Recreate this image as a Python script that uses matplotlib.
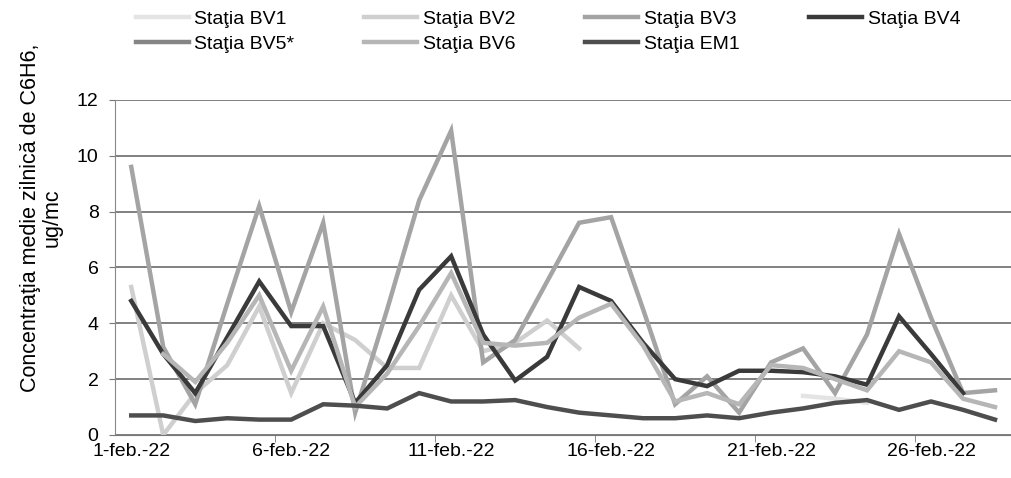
import numpy as np
import matplotlib
matplotlib.use("Agg")
import matplotlib.pyplot as plt

plt.rcParams['font.family'] = ['Liberation Sans', 'DejaVu Sans']

nan = np.nan
# one value per day, 1-28 feb 2022
n_days = 28
tick_pos = [0, 5, 10, 15, 20, 25]
tick_labels = ["1-feb.-22", "6-feb.-22", "11-feb.-22", "16-feb.-22",
               "21-feb.-22", "26-feb.-22"]

bv1 = [nan, nan, nan, nan, nan, nan, nan, nan, nan, nan, nan, nan, nan, nan,
       nan, nan, nan, nan, nan, nan, nan, 1.4, 1.3, 1.15, nan, nan, nan, nan]
bv2 = [5.3, 0.0, 1.5, 2.5, 4.6, 1.5, 4.0, 3.4, 2.4, 2.4, 5.0, 3.0, 3.3, 4.1,
       3.1, nan, nan, nan, nan, nan, nan, nan, nan, nan, nan, nan, nan, nan]
bv3 = [9.6, 3.15, 1.1, 4.7, 8.2, 4.4, 7.6, 0.8, 4.5, 8.4, 10.9, 2.6, 3.4, 5.5,
       7.6, 7.8, 4.5, 1.1, 2.1, 0.8, 2.6, 3.1, 1.5, 3.6, 7.2, 4.2, 1.5, 1.6]
bv4 = [4.8, 2.9, 1.5, 3.5, 5.5, 3.9, 3.9, 1.15, 2.5, 5.2, 6.4, 3.6, 1.95, 2.8,
       5.3, 4.8, 3.3, 2.0, 1.75, 2.3, 2.3, 2.25, 2.1, 1.8, 4.25, 2.9, 1.5, nan]
bv5 = [nan] * n_days
bv6 = [nan, 2.9, 1.9, 3.3, 5.0, 2.3, 4.6, 1.0, 2.2, 3.9, 5.8, 3.3, 3.2, 3.3,
       4.2, 4.7, 3.2, 1.2, 1.5, 1.1, 2.5, 2.4, 2.0, 1.6, 3.0, 2.6, 1.3, 1.0]
em1 = [0.7, 0.7, 0.5, 0.6, 0.55, 0.55, 1.1, 1.05, 0.95, 1.5, 1.2, 1.2, 1.25, 1.0,
       0.8, 0.7, 0.6, 0.6, 0.7, 0.6, 0.8, 0.95, 1.15, 1.25, 0.9, 1.2, 0.9, 0.55]

series = [("Staţia BV1", bv1, '#e4e4e4'),
          ("Staţia BV2", bv2, '#cfcfcf'),
          ("Staţia BV3", bv3, '#a4a4a4'),
          ("Staţia BV4", bv4, '#3a3a3a'),
          ("Staţia BV5*", bv5, '#858585'),
          ("Staţia BV6", bv6, '#b6b6b6'),
          ("Staţia EM1", em1, '#4e4e4e')]

fig = plt.figure(figsize=(10.11, 4.78), dpi=100)
ax = fig.add_axes([0.114, 0.09, 0.886, 0.701])

x = np.arange(n_days)
handles = {}
for name, vals, col in series:
    ln, = ax.plot(x, vals, color=col, linewidth=3.2, solid_joinstyle='miter',
                  label=name)
    handles[name] = ln

ax.set_xlim(-0.5, 27.5)
ax.set_ylim(0, 12)
ax.set_yticks(range(0, 13, 2))
ax.yaxis.grid(True, color='#5e5e5e', linewidth=1.1)
ax.set_axisbelow(True)

ax.set_xticks(tick_pos)
ax.set_xticklabels(tick_labels)
ax.set_xticks(np.arange(4.5, 27, 5), minor=True)
ax.tick_params(axis='x', which='major', length=0, pad=6, labelsize=14)
ax.tick_params(axis='x', which='minor', length=5, color='#777777')
ax.tick_params(axis='y', length=4, color='#777777', labelsize=14, pad=8)

for s in ['top', 'right']:
    ax.spines[s].set_visible(False)
ax.spines['left'].set_color('#888888')
ax.spines['bottom'].set_color('#777777')

fig.text(0.041, 0.545, "Concentraţia medie zilnică de C6H6,\nug/mc",
         rotation=90, ha='center', va='center', multialignment='center',
         fontsize=15.5, linespacing=1.05)

# legend laid out row by row: matplotlib fills columns first
order = ["Staţia BV1", "Staţia BV5*", "Staţia BV2", "Staţia BV6",
         "Staţia BV3", "Staţia EM1", "Staţia BV4"]
fig.legend([handles[k] for k in order], order, loc='upper left',
           bbox_to_anchor=(136 / 1011, 1 - 10 / 478), ncol=4, frameon=False,
           fontsize=14, handlelength=2.7, handletextpad=0.3,
           columnspacing=3.6, labelspacing=0.4, borderpad=0, borderaxespad=0)

fig.savefig("out.png", dpi=100)
